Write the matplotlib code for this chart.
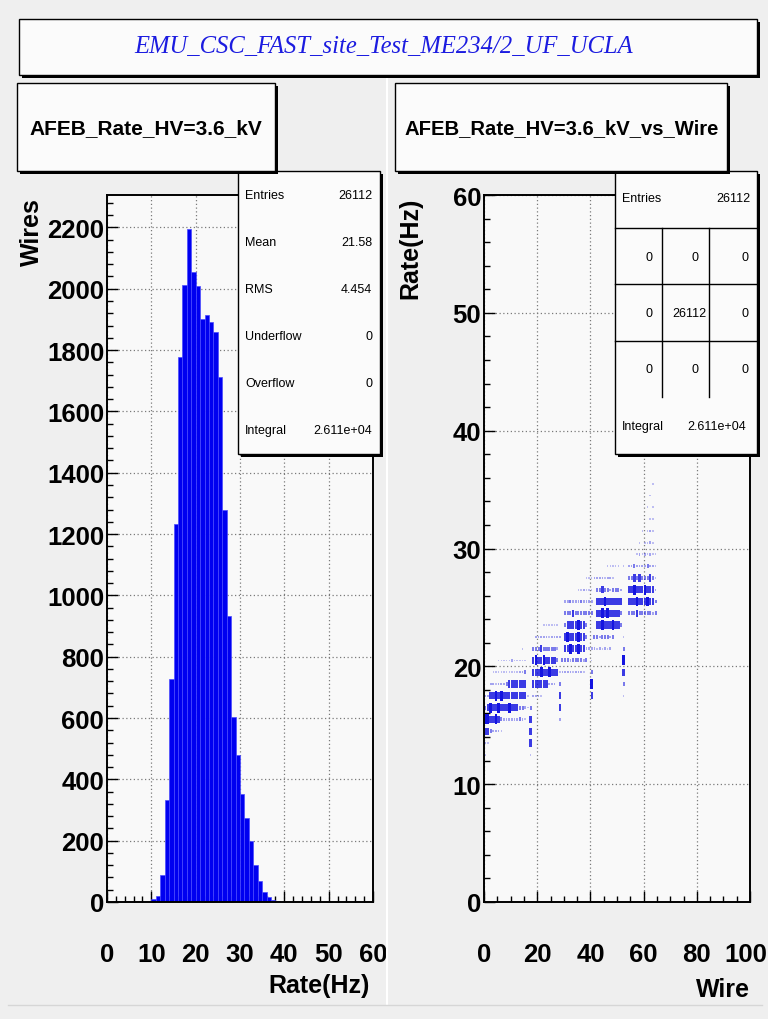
import matplotlib
matplotlib.use("Agg")
import matplotlib.pyplot as plt
from matplotlib.patches import Rectangle
from matplotlib.lines import Line2D
from matplotlib.ticker import MultipleLocator, FuncFormatter
import numpy as np

# ---------------------------------------------------------------- data
page_title = "EMU_CSC_FAST_site_Test_ME234/2_UF_UCLA"
left_title = "AFEB_Rate_HV=3.6_kV"
right_title = "AFEB_Rate_HV=3.6_kV_vs_Wire"

# 1-D histogram: wires per 1 Hz rate bin, 0..60 Hz
rate_bin_low = list(range(0, 60))
rate_counts = [0, 0, 0, 0, 0, 0, 0, 0, 0, 0,
               9, 20, 88, 333, 726, 1234, 1776, 2012, 2196, 2056,
               2008, 1901, 1915, 1890, 1859, 1713, 1280, 934, 604, 478,
               353, 275, 200, 121, 70, 34, 15, 8, 3, 1,
               0, 0, 0, 0, 0, 0, 0, 0, 0, 0,
               0, 0, 0, 0, 0, 0, 0, 0, 0, 0]

left_stat_names = ["Entries", "Mean", "RMS", "Underflow", "Overflow", "Integral"]
left_stat_values = ["26112", "21.58", "4.454", "0", "0", "2.611e+04"]

right_entries = "26112"
right_integral = "2.611e+04"
right_cells = [["0", "0", "0"],
               ["0", "26112", "0"],
               ["0", "0", "0"]]

# 2-D histogram rate vs wire: one string per 1 Hz rate bin, one character per
# wire (0..65, "|" every ten wires for readability); character = cell level
level_counts = {" ": 0, ".": 5, ":": 20, "+": 60, "#": 150, "@": 220}
rate_vs_wire = {
    12: ".         |       .  |",
    13: ":.        |       #  |",
    14: "##+:::.   |       #  |",
    15: "@@##@#+:::|:::+:. #  |        : |",
    16: "+#@##@###@|###++:.+  |        # |",
    17: "::##@#@###|######. ::|:.      # |          |#         |  .       |",
    18: "  ::.:::+#|######  ##|####::: + |          |@         |  +       |",
    19: "   .......|...::+  ##|#@##@###.:|:::.:::.  |+         |  #       |",
    20: "     .....|:.....  #@|##@####+ +|++:++++:+ |.         |  @       |",
    21: "          |    .   ++|+#+++++:  |##@##@##::|::.:.:.:  |  +       |",
    22: "          |         :|::::.:::: |#@###@##+ | ++:+++:+ |  .       |",
    23: "          |          |  ......  |+####@##+ |  ##@###@#|#+        |",
    24: "          |          |          |+++#++++++|+ ##@#@###|#+  +++#++|+++:+ ",
    25: "          |          |          |::+:::+:::|: ###@####|##  ###@##|#@##+ ",
    26: "          |          |          |     ..:..|. ++#++:++|+:  ##@###|@###: ",
    27: "          |          |          |        ..|.::::.::. |    ++#+#+|++#+. ",
    28: "          |          |          |          |      ....|. . ::+:::|:+::. ",
    29: "          |          |          |          |          |       .:.|:.:.. ",
    30: "          |          |          |          |          |        . |..:.  ",
    31: "          |          |          |          |          |         .| .:.  ",
    32: "          |          |          |          |          |          |  ..  ",
    33: "          |          |          |          |          |          | . .  ",
    34: "          |          |          |          |          |          |  .   ",
    35: "          |          |          |          |          |          |   .  ",
}

# ---------------------------------------------------------------- style
W, H = 768, 1020
BG = "#efefef"
FRAME_BG = "#f9f9f9"
PAVE_BG = "#fbfbfb"
SANS = "Liberation Sans"
SERIF = "Liberation Serif"
HIST_BLUE = "#0000f0"
BOX_BLUE = (0.08, 0.08, 0.88)
TICK_FONT = dict(fontfamily=SANS, fontweight="bold", fontsize=18.5)
TICK_PAD = 29

plt.rcParams["font.family"] = [SANS, "DejaVu Sans"]

fig = plt.figure(figsize=(W / 100, H / 100), dpi=100, facecolor=BG)


def fx(px):
    return px / W


def fy(py):
    return 1 - py / H


def pave(x0, y0, x1, y1, z=5, shadow=3):
    """Box with a ROOT-like drop shadow, pixel coordinates from top-left."""
    if shadow:
        fig.add_artist(Rectangle((fx(x0 + shadow), fy(y1 + shadow)),
                                 (x1 - x0) / W, (y1 - y0) / H,
                                 transform=fig.transFigure, facecolor="black",
                                 edgecolor="none", zorder=z))
    fig.add_artist(Rectangle((fx(x0), fy(y1)), (x1 - x0) / W, (y1 - y0) / H,
                             transform=fig.transFigure, facecolor=PAVE_BG,
                             edgecolor="black", linewidth=1.0, zorder=z + 0.1))


def hline(x0, x1, y, z):
    fig.add_artist(Line2D([fx(x0), fx(x1)], [fy(y), fy(y)],
                          transform=fig.transFigure, color="black", lw=1.0, zorder=z))


def vline(x, y0, y1, z):
    fig.add_artist(Line2D([fx(x), fx(x)], [fy(y0), fy(y1)],
                          transform=fig.transFigure, color="black", lw=1.0, zorder=z))


# pad separators
fig.add_artist(Line2D([fx(387), fx(387)], [fy(80), fy(1005)], transform=fig.transFigure,
                      color="#ffffff", lw=1.5, zorder=0.1))
fig.add_artist(Line2D([fx(8), fx(762)], [fy(1006), fy(1006)], transform=fig.transFigure,
                      color="#d6d6d6", lw=1.0, zorder=0.1))


def style_axes(ax, xmaj, xmin, ymaj, ymin):
    ax.set_facecolor(FRAME_BG)
    ax.set_axisbelow(True)
    ax.xaxis.set_major_locator(MultipleLocator(xmaj))
    ax.xaxis.set_minor_locator(MultipleLocator(xmin))
    ax.yaxis.set_major_locator(MultipleLocator(ymaj))
    ax.yaxis.set_minor_locator(MultipleLocator(ymin))
    ax.tick_params(which="both", direction="in", width=1.0, colors="black")
    ax.tick_params(which="major", length=8)
    ax.tick_params(which="minor", length=4)
    ax.tick_params(axis="x", which="major", pad=TICK_PAD)
    ax.tick_params(axis="y", which="major", pad=2)
    for lab in ax.get_xticklabels() + ax.get_yticklabels():
        lab.set(**TICK_FONT)
    ax.grid(True, which="major", color="#7a7a7a", linestyle=(0, (1, 2)), linewidth=0.9)
    for side in ax.spines.values():
        side.set_linewidth(1.4)
        side.set_color("black")


# ---------------------------------------------------------------- left: 1-D histogram
ax1 = fig.add_axes([fx(107), fy(903), (373 - 107) / W, (903 - 196) / H])
ax1.bar(rate_bin_low, rate_counts, width=1.0, align="edge", color=HIST_BLUE,
        edgecolor="#4a4aff", linewidth=0.5, zorder=2)
ax1.set_xlim(0, 60)
ax1.set_ylim(0, max(rate_counts) * 1.05)
style_axes(ax1, 10, 2, 200, 40)

# ---------------------------------------------------------------- right: 2-D box plot
ax2 = fig.add_axes([fx(484), fy(903), (750 - 484) / W, (903 - 196) / H])
cmax = max(level_counts.values())
bx, bb, bh, bw, bc = [], [], [], [], []
for rate, row in rate_vs_wire.items():
    cells = row.replace("|", "")
    for wire, ch in enumerate(cells):
        c = level_counts[ch]
        if c == 0:
            continue
        f = c / cmax
        h = 0.14 + 0.7 * f
        bx.append(wire + 0.5)
        bb.append(rate + 0.5 - h / 2)
        bh.append(h)
        bw.append(0.5 + 0.5 * np.sqrt(f))
        bc.append((*BOX_BLUE, 0.17 + 0.83 * f ** 0.6))
ax2.bar(bx, bh, width=bw, bottom=bb, color=bc, linewidth=0, zorder=2)
ax2.set_xlim(0, 100)
ax2.set_ylim(0, 60)
style_axes(ax2, 20, 5, 10, 2)
# the last wire label sits at the page edge: draw it pulled in so it stays whole
x_end = ax2.get_xlim()[1]
ax2.xaxis.set_major_formatter(FuncFormatter(lambda v, p: "" if v >= x_end else f"{v:g}"))
ax2.annotate(f"{x_end:g}", xy=(x_end, 0), xycoords=("data", "axes fraction"),
             xytext=(12.3, -TICK_PAD), textcoords="offset points",
             ha="right", va="top", annotation_clip=False, **TICK_FONT)

# ---------------------------------------------------------------- axis titles
title_kw = dict(fontfamily=SANS, fontweight="bold", fontsize=18, color="black")
fig.text(fx(32), fy(198), "Wires", rotation=90, ha="center", va="top", **title_kw)
fig.text(fx(370), fy(986), "Rate(Hz)", ha="right", va="center", **title_kw)
fig.text(fx(410), fy(198), "Rate(Hz)", rotation=90, ha="center", va="top", **title_kw)
fig.text(fx(750), fy(990), "Wire", ha="right", va="center", **title_kw)

# ---------------------------------------------------------------- statistics boxes
stat_kw = dict(fontfamily=SANS, fontsize=9, color="black", va="center", zorder=7)
pave(238, 172, 380, 455, z=5)
for i, (name, val) in enumerate(zip(left_stat_names, left_stat_values)):
    y = 196 + i * 47
    fig.text(fx(245), fy(y), name, ha="left", **stat_kw)
    fig.text(fx(372), fy(y), val, ha="right", **stat_kw)

pave(615, 172, 757, 455, z=5)
fig.text(fx(622), fy(199), "Entries", ha="left", **stat_kw)
fig.text(fx(750), fy(199), right_entries, ha="right", **stat_kw)
for yy in (229, 285, 342):
    hline(615, 757, yy, 6.5)
for xx in (662, 709):
    vline(xx, 229, 398, 6.5)
cell_right = [653, 706, 748]
for r, row in enumerate(right_cells):
    y = 258 + r * 56
    for c, txt in enumerate(row):
        xr = cell_right[c] if txt != "0" or c != 1 else 698
        fig.text(fx(xr), fy(y), txt, ha="right", **stat_kw)
fig.text(fx(622), fy(427), "Integral", ha="left", **stat_kw)
fig.text(fx(746), fy(427), right_integral, ha="right", **stat_kw)

# ---------------------------------------------------------------- title boxes
pave(19, 20, 757, 76, z=8)
fig.text(fx(384), fy(47), page_title, ha="center", va="center", fontfamily=SERIF,
         style="italic", fontsize=17.7, color="#1c1ce0", zorder=9)
pave(17, 84, 275, 172, z=8)
fig.text(fx(146), fy(129), left_title, ha="center", va="center", fontfamily=SANS,
         fontweight="bold", fontsize=15, color="black", zorder=9)
pave(395, 84, 727, 172, z=8)
fig.text(fx(562), fy(129), right_title, ha="center", va="center", fontfamily=SANS,
         fontweight="bold", fontsize=14.6, color="black", zorder=9)

fig.savefig("out.png", dpi=100, facecolor=BG)
